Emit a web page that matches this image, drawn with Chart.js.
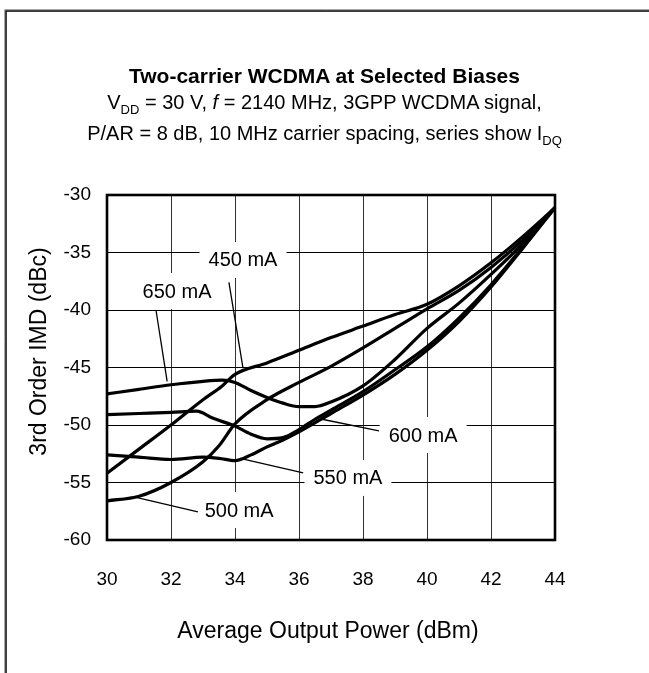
<!DOCTYPE html>
<html>
<head>
<meta charset="utf-8">
<script src="https://cdn.jsdelivr.net/npm/chart.js@4"></script>
<style>
  html, body { margin: 0; padding: 0; background: #fff; width: 649px; height: 673px; overflow: hidden; }
  #wrap { position: absolute; left: 0; top: 0; width: 649px; height: 673px; }
  .ttl { position: absolute; left: 0; width: 649px; text-align: center; font-family: "Liberation Sans", Arial, sans-serif; color: #000; white-space: nowrap; }
  .sub { position: relative; top: 5px; font-size: 13px; }
</style>
</head>
<body>
<div id="wrap"><canvas id="myCanvas" width="649" height="673"></canvas></div>
<div class="ttl" style="top:65px;font-size:21px;line-height:21px;font-weight:bold;">Two-carrier WCDMA at Selected Biases</div>
<div class="ttl" style="top:92px;font-size:20px;line-height:20px;">V<span class="sub">DD</span> = 30 V, <i>f</i> = 2140 MHz, 3GPP WCDMA signal,</div>
<div class="ttl" style="top:123px;font-size:20px;line-height:20px;">P/AR = 8 dB, 10 MHz carrier spacing, series show I<span class="sub">DQ</span></div>
<script>
// output power (dBm) for each series point, and IMD (dBc)
var p450 = [30, 31, 32, 33, 33.6, 34, 35, 36, 37, 38, 39, 40, 41, 42, 43, 44];
var imd450 = [-54.2, -52.1, -50.0, -47.8, -46.6, -45.6, -44.6, -43.5, -42.4, -41.4, -40.4, -39.5, -37.9, -35.9, -33.6, -31.1];

var p500 = [30, 31, 32, 33, 33.5, 34, 35, 36, 37, 38, 39, 40, 41, 42, 43, 44];
var imd500 = [-56.6, -56.2, -55.0, -53.2, -51.8, -49.9, -47.8, -46.3, -44.9, -43.3, -41.6, -39.9, -38.3, -36.3, -33.9, -31.1];

var p550 = [30, 31, 32, 33, 33.5, 34, 34.5, 35, 35.5, 36, 37, 38, 39, 40, 41, 42, 43, 44];
var imd550 = [-52.6, -52.8, -53.0, -52.8, -52.9, -53.1, -52.6, -51.9, -51.3, -50.6, -49.0, -47.4, -45.6, -43.5, -41.0, -38.0, -34.6, -31.1];

var p600 = [30, 31, 32, 32.8, 33.3, 34, 34.5, 35, 35.5, 36, 36.5, 37, 38, 39, 40, 41, 42, 43, 44];
var imd600 = [-49.1, -49.0, -48.9, -48.8, -49.4, -50.1, -50.8, -51.2, -51.1, -50.4, -49.5, -48.7, -47.1, -45.2, -43.2, -40.7, -37.8, -34.5, -31.1];

var p650 = [30, 31, 32, 33, 33.6, 34, 34.5, 35, 35.5, 36, 36.5, 37, 38, 39, 40, 41, 42, 43, 44];
var imd650 = [-47.3, -46.9, -46.5, -46.2, -46.1, -46.3, -47.0, -47.6, -48.1, -48.4, -48.4, -48.0, -46.6, -44.3, -41.6, -39.4, -36.9, -34.2, -31.1];

var xTicks = [30, 32, 34, 36, 38, 40, 42, 44];
var yTicks = [-30, -35, -40, -45, -50, -55, -60];

// label text, text centre, and the leader line (start -> point on the curve)
var seriesLabels = ['450 mA', '500 mA', '550 mA', '600 mA', '650 mA'];
var labelAt = [[34.25, -35.65], [34.13, -57.4], [37.53, -54.6], [39.88, -50.87], [32.19, -38.35]];
var leaderFrom = [[33.81, -37.6], [32.84, -57.55], [36.13, -54.17], [38.5, -50.52], [31.53, -40.0]];
var leaderTo = [[34.25, -45.05], [30.91, -56.3], [34.16, -52.9], [36.72, -49.5], [31.88, -46.2]];

var xTitle = 'Average Output Power (dBm)';
var yTitle = '3rd Order IMD (dBc)';

var FONT = '"Liberation Sans", Arial, sans-serif';

function pts(xs, ys){
	var out = [];
	for (var i = 0; i < xs.length; i++) out.push({x: xs[i], y: ys[i]});
	return out;
}

function line(xs, ys){
	return {
		data: pts(xs, ys),
		borderColor: '#000',
		borderWidth: 3.2,
		pointRadius: 0,
		fill: false,
		cubicInterpolationMode: 'monotone'
	};
}

// leader lines, white boxes behind the labels, heavy plot frame, axis titles, outer frame
var labelPlugin = {
	id: 'seriesLabels',
	beforeDraw: function(chart){
		var ctx = chart.ctx;
		ctx.save();
		ctx.strokeStyle = '#aaa';
		ctx.lineWidth = 1;
		ctx.beginPath();
		ctx.moveTo(4.5, 673); ctx.lineTo(4.5, 9.5); ctx.lineTo(649, 9.5);
		ctx.stroke();
		ctx.strokeStyle = '#000';
		ctx.lineWidth = 1.5;
		ctx.beginPath();
		ctx.moveTo(6, 673); ctx.lineTo(6, 11); ctx.lineTo(649, 11);
		ctx.stroke();
		ctx.restore();
	},
	afterDatasetsDraw: function(chart){
		var ctx = chart.ctx;
		var xs = chart.scales.x, ys = chart.scales.y;
		var a = chart.chartArea;
		ctx.save();
		ctx.font = '20px ' + FONT;
		ctx.textAlign = 'center';
		ctx.textBaseline = 'middle';
		for (var i = 0; i < seriesLabels.length; i++){
			var tx = xs.getPixelForValue(labelAt[i][0]);
			var ty = ys.getPixelForValue(labelAt[i][1]);
			var w = ctx.measureText(seriesLabels[i]).width + 18;
			ctx.fillStyle = '#fff';
			ctx.fillRect(tx - w / 2, ty - 18, w, 36);
			ctx.strokeStyle = '#000';
			ctx.lineWidth = 1.3;
			ctx.beginPath();
			ctx.moveTo(xs.getPixelForValue(leaderFrom[i][0]), ys.getPixelForValue(leaderFrom[i][1]));
			ctx.lineTo(xs.getPixelForValue(leaderTo[i][0]), ys.getPixelForValue(leaderTo[i][1]));
			ctx.stroke();
			ctx.fillStyle = '#000';
			ctx.fillText(seriesLabels[i], tx, ty + 1);
		}
		ctx.lineWidth = 2.6;
		ctx.strokeRect(a.left, a.top, a.right - a.left, a.bottom - a.top);

		// axis titles
		ctx.font = '23px ' + FONT;
		ctx.fillText(xTitle, (a.left + a.right) / 2 - 3, 632);
		ctx.translate(40, (a.top + a.bottom) / 2 - 16);
		ctx.rotate(-Math.PI / 2);
		ctx.fillText(yTitle, 0, 0);
		ctx.restore();
	}
};

var ctx = document.getElementById('myCanvas').getContext('2d');
var myChart = new Chart(ctx, {
	type: 'line',
	data: {
		datasets: [
			line(p450, imd450),
			line(p500, imd500),
			line(p550, imd550),
			line(p600, imd600),
			line(p650, imd650)
		]
	},
	options: {
		responsive: false,
		animation: false,
		layout: { padding: { left: 0, right: 94, top: 195, bottom: 0 } },
		plugins: { legend: { display: false }, tooltip: { enabled: false } },
		scales: {
			x: {
				type: 'linear', min: 30, max: 44,
				afterBuildTicks: function(ax){ ax.ticks = xTicks.map(function(v){ return {value: v}; }); },
				afterFit: function(ax){ ax.height = 133; },
				grid: { color: '#333', lineWidth: 1, drawTicks: false },
				border: { display: false },
				ticks: { color: '#000', padding: 28, font: { family: FONT, size: 19 } }
			},
			y: {
				type: 'linear', min: -60, max: -30,
				afterBuildTicks: function(ax){ ax.ticks = yTicks.map(function(v){ return {value: v}; }); },
				afterFit: function(ax){ ax.width = 107; },
				grid: { color: '#000', lineWidth: 1, drawTicks: false },
				border: { display: false },
				ticks: { color: '#000', padding: 16, font: { family: FONT, size: 19 } }
			}
		}
	},
	plugins: [labelPlugin]
});
</script>
</body>
</html>
